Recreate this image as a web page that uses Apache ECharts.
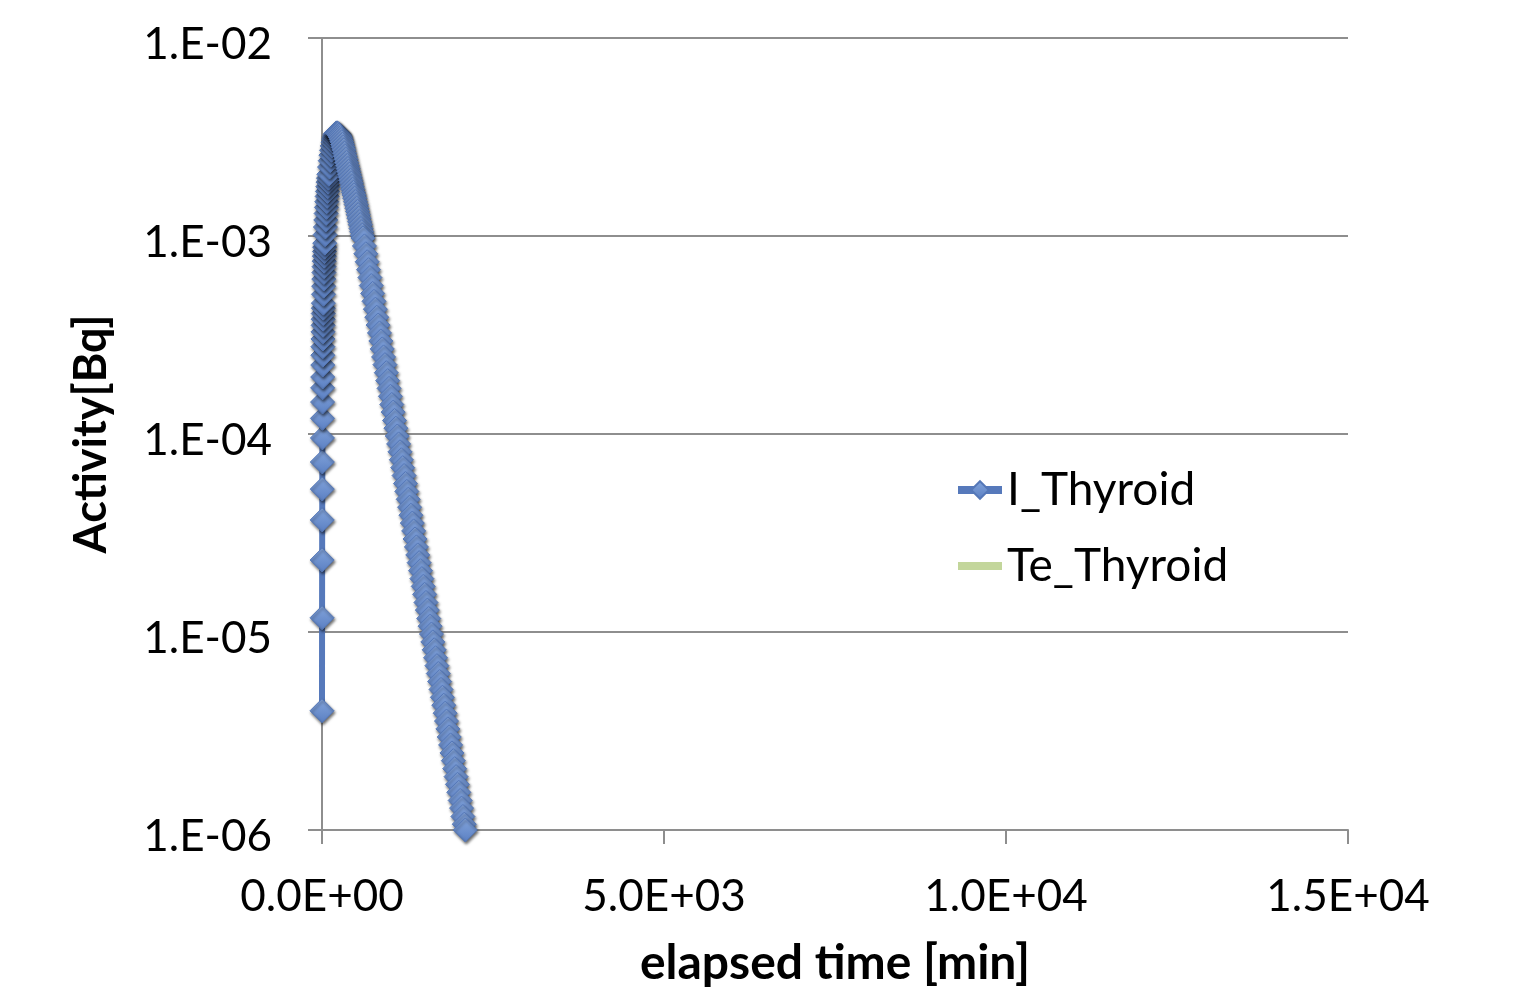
<!DOCTYPE html>
<html>
<head>
<meta charset="utf-8">
<script src="https://cdn.jsdelivr.net/npm/echarts@6/dist/echarts.min.js"></script>
<style>
html,body{margin:0;padding:0;background:#fff;}
#chart{width:1525px;height:995px;}
</style>
</head>
<body>
<div id="chart"></div>
<script>
// ---- data ----
var seriesNames = ['I_Thyroid', 'Te_Thyroid'];
var xTicks = [0, 5000, 10000, 15000];
var yTicks = [1e-6, 1e-5, 1e-4, 1e-3, 1e-2];

// elapsed time [min]
var timeMin = [
  0,1,2,3,4,5,6,7,8,9,10,11,12,13,14,15,16,17,18,19,20,
  22,24,26,28,30,32,34,36,38,40,
  45,50,55,60,65,70,75,80,85,90,95,100,
  110,120,130,140,150,160,170,180,190,200,210,220,230,240,250,260,270,280,290,
  300,310,320,330,340,350,360,370,380,390,400,410,420,430,440,450,460,470,480,490,
  500,510,520,530,540,550,560,570,580,590,
  600,620,640,660,680,700,720,740,760,780,800,820,840,860,880,900,920,940,960,980,
  1000,1020,1040,1060,1080,1100,1120,1140,1160,1180,1200,1220,1240,1260,1280,
  1300,1320,1340,1360,1380,1400,1420,1440,1460,1480,1500,1520,1540,1560,1580,
  1600,1620,1640,1660,1680,1700,1720,1740,1760,1780,1800,1820,1840,1860,1880,
  1900,1920,1940,1960,1980,2000,2020,2040,2060,2080,2095
];
// I_Thyroid activity [Bq]
var iThyroid = [
  4.0e-6,1.18e-5,2.31e-5,3.68e-5,5.27e-5,7.22e-5,9.55e-5,1.20e-4,1.45e-4,1.71e-4,1.94e-4,
  2.23e-4,2.50e-4,2.76e-4,3.02e-4,3.28e-4,3.54e-4,3.80e-4,4.06e-4,4.32e-4,4.58e-4,
  5.08e-4,5.58e-4,6.06e-4,6.54e-4,7.00e-4,7.46e-4,7.91e-4,8.35e-4,8.78e-4,9.20e-4,
  1.015e-3,1.11e-3,1.205e-3,1.30e-3,1.395e-3,1.49e-3,1.585e-3,1.68e-3,1.775e-3,1.87e-3,1.96e-3,2.05e-3,
  2.23e-3,2.40e-3,2.56e-3,2.71e-3,2.85e-3,2.98e-3,3.09e-3,3.18e-3,3.25e-3,3.29e-3,3.315e-3,3.32e-3,
  3.30e-3,3.28e-3,3.24e-3,3.20e-3,3.14e-3,3.07e-3,2.99e-3,
  2.90e-3,2.81e-3,2.72e-3,2.62e-3,2.53e-3,2.44e-3,2.35e-3,2.27e-3,2.19e-3,2.12e-3,
  2.05e-3,1.98e-3,1.91e-3,1.85e-3,1.78e-3,1.72e-3,1.66e-3,1.61e-3,1.55e-3,1.49e-3,
  1.44e-3,1.38e-3,1.33e-3,1.28e-3,1.23e-3,1.18e-3,1.14e-3,1.09e-3,1.05e-3,1.01e-3,
  9.77e-4,8.91e-4,8.13e-4,7.41e-4,6.76e-4,6.17e-4,5.62e-4,5.13e-4,4.68e-4,4.27e-4,
  3.89e-4,3.55e-4,3.24e-4,2.95e-4,2.69e-4,2.45e-4,2.24e-4,2.04e-4,1.86e-4,1.70e-4,
  1.55e-4,1.41e-4,1.29e-4,1.17e-4,1.07e-4,
  9.77e-5,8.91e-5,8.13e-5,7.41e-5,6.76e-5,6.17e-5,5.62e-5,5.13e-5,4.68e-5,4.27e-5,
  3.89e-5,3.55e-5,3.24e-5,2.95e-5,2.69e-5,2.45e-5,2.24e-5,2.04e-5,1.86e-5,1.70e-5,
  1.55e-5,1.41e-5,1.29e-5,1.17e-5,1.07e-5,
  9.77e-6,8.91e-6,8.13e-6,7.41e-6,6.76e-6,6.17e-6,5.62e-6,5.13e-6,4.68e-6,4.27e-6,
  3.89e-6,3.55e-6,3.24e-6,2.95e-6,2.69e-6,2.45e-6,2.24e-6,2.04e-6,1.86e-6,1.70e-6,
  1.55e-6,1.41e-6,1.29e-6,1.17e-6,1.07e-6,1.0e-6
];
// Te_Thyroid: no points visible in the plotted range
var teThyroid = [];

// ---- chart ----
var iData = timeMin.map(function (t, k) { return [t, iThyroid[k]]; });

function pad2(n) { n = Math.abs(n); return (n < 10 ? '0' : '') + n; }
function yFmt(v) {
  var e = Math.round(Math.log10(v));
  return '{t|1.E' + (e < 0 ? '-' : '+') + pad2(e) + '}';
}
function xFmt(v) {
  if (v === 0) return '0.0E+00';
  var e = Math.floor(Math.log10(v) + 1e-9);
  var m = v / Math.pow(10, e);
  return m.toFixed(1) + 'E' + (e < 0 ? '-' : '+') + pad2(e);
}

var FONT = 'Lato, "Open Sans", sans-serif';
var GRID_COLOR = '#8e8e8e';

var chart = echarts.init(document.getElementById('chart'), null, {renderer: 'canvas'});
chart.setOption({
  animation: false,
  backgroundColor: '#ffffff',
  textStyle: {fontFamily: FONT, color: '#000'},
  grid: {left: 322, right: 177, top: 38, bottom: 165, containLabel: false},
  legend: {
    data: [
      {name: seriesNames[0]},
      {name: seriesNames[1], itemStyle: {opacity: 0}}
    ],
    orient: 'vertical',
    left: 949,
    top: 459,
    itemWidth: 44,
    itemHeight: 22,
    itemGap: 24,
    lineStyle: {width: 8},
    textStyle: {fontFamily: FONT, fontSize: 46, color: '#000', lineHeight: 52},
    selectedMode: false
  },
  xAxis: {
    type: 'value',
    min: xTicks[0],
    max: xTicks[xTicks.length - 1],
    interval: xTicks[1] - xTicks[0],
    name: 'elapsed time [min]',
    nameLocation: 'middle',
    nameGap: 110,
    nameTextStyle: {fontFamily: FONT, fontSize: 48, fontWeight: 'bold', color: '#000'},
    axisLine: {show: true, onZero: false, lineStyle: {color: GRID_COLOR, width: 2}},
    axisTick: {show: true, length: 14, lineStyle: {color: GRID_COLOR, width: 2}},
    axisLabel: {formatter: xFmt, fontFamily: FONT, fontSize: 44, color: '#000', margin: 45},
    splitLine: {show: false}
  },
  yAxis: {
    type: 'log',
    logBase: 10,
    min: yTicks[0],
    max: yTicks[yTicks.length - 1],
    splitNumber: yTicks.length - 1,
    name: 'Activity[Bq]',
    nameLocation: 'middle',
    nameRotate: 90,
    nameGap: 208,
    nameTextStyle: {fontFamily: FONT, fontSize: 45, fontWeight: 'bold', color: '#000'},
    axisLine: {show: true, lineStyle: {color: GRID_COLOR, width: 2}},
    axisTick: {show: true, length: 14, lineStyle: {color: GRID_COLOR, width: 2}},
    axisLabel: {formatter: yFmt, color: '#000', margin: 50,
      rich: {t: {fontFamily: FONT, fontSize: 44, color: '#000', padding: [13, 0, 0, 0]}}},
    splitLine: {show: true, lineStyle: {color: GRID_COLOR, width: 2}},
    minorTick: {show: false},
    minorSplitLine: {show: false}
  },
  series: [
    {
      name: seriesNames[0],
      type: 'line',
      data: iData,
      symbol: 'diamond',
      symbolSize: 24,
      showAllSymbol: true,
      lineStyle: {color: '#5679bb', width: 6},
      itemStyle: {
        color: {type: 'linear', x: 0, y: 0, x2: 0, y2: 1,
          colorStops: [{offset: 0, color: '#84a5dc'}, {offset: 1, color: '#5a7fc2'}]},
        borderColor: '#5578b8',
        borderWidth: 1,
        shadowColor: 'rgba(0,0,0,0.6)',
        shadowBlur: 3,
        shadowOffsetX: 1,
        shadowOffsetY: 2
      },
      z: 3
    },
    {
      name: seriesNames[1],
      type: 'line',
      data: teThyroid,
      symbol: 'none',
      lineStyle: {color: '#c3d69b', width: 6},
      itemStyle: {color: '#c3d69b'},
      z: 2
    }
  ]
});
</script>
</body>
</html>
